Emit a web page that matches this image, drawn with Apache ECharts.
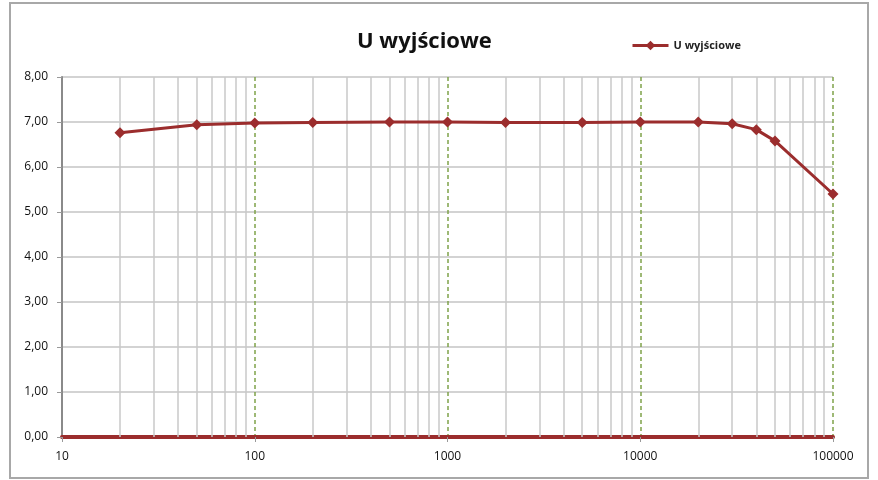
<!DOCTYPE html>
<html>
<head>
<meta charset="utf-8">
<script src="https://cdn.jsdelivr.net/npm/echarts@6/dist/echarts.min.js"></script>
<style>
  html, body { margin: 0; padding: 0; background: #fff; }
  #chart { width: 878px; height: 480px; }
</style>
</head>
<body>
<div id="chart"></div>
<script>
const freq = [20, 50, 100, 200, 500, 1000, 2000, 5000, 10000, 20000, 30000, 40000, 50000, 100000];
const uOut = [6.76, 6.94, 6.98, 6.99, 7.00, 7.00, 6.99, 6.99, 7.00, 7.00, 6.96, 6.83, 6.58, 5.40];
const minorX = [20, 30, 40, 50, 60, 70, 80, 90,
  200, 300, 400, 500, 600, 700, 800, 900,
  2000, 3000, 4000, 5000, 6000, 7000, 8000, 9000,
  20000, 30000, 40000, 50000, 60000, 70000, 80000, 90000];

const chart = echarts.init(document.getElementById("chart"));

const fmt = (v) => v.toFixed(2).replace(".", ",");

chart.setOption({
  animation: false,
  textStyle: { fontFamily: "Open Sans, DejaVu Sans, sans-serif" },
  title: {
    text: "U wyjściowe",
    left: 352,
    top: 26,
    textStyle: { fontSize: 22, fontWeight: "bold", color: "#111" }
  },
  legend: {
    left: 626,
    top: 35,
    itemWidth: 36,
    itemHeight: 12,
    itemGap: 2,
    itemStyle: { color: "#9b2d2d" },
    lineStyle: { width: 3 },
    textStyle: { fontSize: 11, color: "#222", fontWeight: "bold" },
    data: ["U wyjściowe"]
  },
  graphic: [{
    type: "rect",
    shape: { x: 10, y: 3, width: 858, height: 475 },
    style: { fill: "none", stroke: "#a8a8a8", lineWidth: 2 },
    silent: true
  }],
  grid: { left: 62, right: 45, top: 77, bottom: 43 },
  xAxis: {
    type: "log",
    logBase: 10,
    min: 10,
    max: 100000,
    axisLine: { show: true, onZero: false, lineStyle: { color: "#9b2d2d", width: 4 } },
    axisTick: { show: true, length: 5, lineStyle: { color: "#999" } },
    axisLabel: { color: "#111", fontSize: 12, margin: 14, formatter: (v) => String(v) },
    splitLine: { show: true, lineStyle: { color: "#7fa34a", type: [4, 3], width: 1.5 } },
    minorTick: { show: false },
    minorSplitLine: { show: false }
  },
  yAxis: {
    type: "value",
    min: 0,
    max: 8,
    interval: 1,
    axisLine: { show: true, lineStyle: { color: "#8a8a8a", width: 2 } },
    axisTick: { show: true, length: 5, lineStyle: { color: "#999" } },
    axisLabel: { color: "#111", fontSize: 12, margin: 14, formatter: fmt },
    splitLine: { show: true, lineStyle: { color: "#c4c4c4", width: 1.5 } }
  },
  series: [
    {
      name: "grid",
      type: "line",
      data: [],
      silent: true,
      z: 1,
      markLine: {
        silent: true,
        symbol: "none",
        label: { show: false },
        lineStyle: { color: "#c8c8c8", type: "solid", width: 1.5 },
        data: minorX.map((x) => ({ xAxis: x }))
      }
    },
    {
      name: "U wyjściowe",
      type: "line",
      data: freq.map((f, i) => [f, uOut[i]]),
      symbol: "diamond",
      symbolSize: 11,
      z: 5,
      lineStyle: { color: "#9b2d2d", width: 3 },
      itemStyle: { color: "#9b2d2d" }
    }
  ]
});
</script>
</body>
</html>
